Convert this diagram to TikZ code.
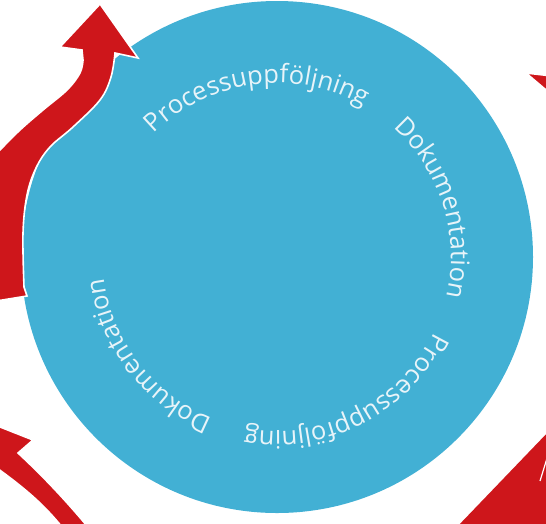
\documentclass[tikz,border=0pt]{standalone}
\usepackage{fontspec}
\setmainfont{Open Sans}
\newfontfamily\ringfont{Open Sans}
\usetikzlibrary{decorations.text}
\definecolor{cblue}{RGB}{66,176,212}
\definecolor{cred}{RGB}{206,22,27}
\definecolor{ctxt}{RGB}{232,244,249}
\begin{document}
\begin{tikzpicture}[x=1pt,y=1pt,
  arrowshape/.style={fill=cred, draw=white, line width=1.6pt, line join=miter},
  ringtext/.style={decorate, decoration={text along path, text align=center, text color=ctxt,
     text={|\ringfont\fontsize{25.5}{25.5}\selectfont|#1}}}]
\useasboundingbox (0,0) rectangle (546,-523);
\clip (0,0) rectangle (546,-523);
\node[circle, fill=cblue, minimum size=512pt, inner sep=0pt] (disc) at (277,-257) {};
% texts
\path[ringtext=Processuppföljning] (disc.center) ++(157.5:174) arc[start angle=157.5, end angle=37.5, radius=174];
\path[ringtext=Dokumentation] (disc.center) ++(77.5:174) arc[start angle=77.5, end angle=-42.5, radius=174];
\path[ringtext=Processuppföljning] (disc.center) ++(-3:174) arc[start angle=-3, end angle=-123, radius=174];
\path[ringtext=Dokumentation] (disc.center) ++(-82.5:174) arc[start angle=-82.5, end angle=-202.5, radius=174];
% top-left arrow
\path[arrowshape] (100,-4) -- (138,-58) -- (115,-53)
  -- plot[smooth, tension=0.6] coordinates {(115,-53) (111,-77) (100,-100) (73,-127) (50,-147) (36,-168) (27,-195) (23,-233) (24,-287)}
  -- (27,-296) -- (-10,-302) -- (-10,-150) -- (0,-150)
  -- plot[smooth, tension=0.6] coordinates {(0,-150) (20,-130) (43,-110) (67,-90) (80,-73) (83,-60)}
  -- (82,-50) -- (60,-47) -- cycle;
% top-right arrow head
\path[arrowshape] (526,-73) -- (552,-76) -- (552,-95) -- cycle;
% bottom-left arrow
\path[arrowshape] (-10,-423) -- (33,-440) -- (18,-453) .. controls (45,-478) and (70,-505) .. (92,-532) -- (66,-532) .. controls (45,-505) and (25,-488) .. (-10,-463) -- cycle;
% bottom-right arrow
\path[fill=cred] (456,-528) -- (552,-428) -- (552,-528) -- cycle;
\coordinate (brA) at (540,-481);
\coordinate (brB) at (548,-455);
\draw[white, line width=1.2pt] (brA) -- (brB);
\end{tikzpicture}
\end{document}
